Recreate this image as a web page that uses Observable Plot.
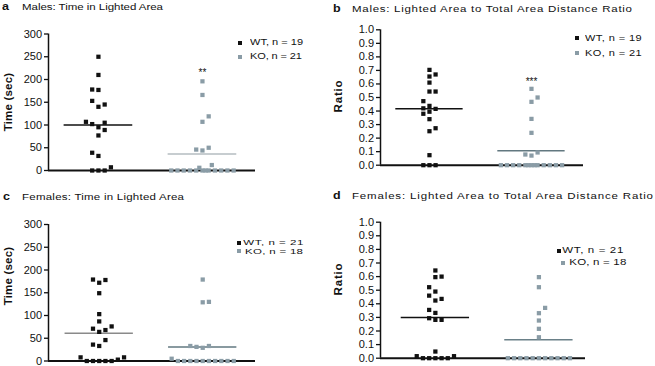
<!DOCTYPE html>
<html><head><meta charset="utf-8">
<script src="https://cdn.jsdelivr.net/npm/d3@7"></script>
<script src="https://cdn.jsdelivr.net/npm/@observablehq/plot@0.6"></script>
<style>
body{margin:0;background:#fff;font-family:"Liberation Sans",Arial,sans-serif;color:#111;}
#fig{position:relative;width:655px;height:366px;overflow:hidden;background:#fff;}
.panel{position:absolute;}
.tl{position:absolute;font-size:11.5px;white-space:nowrap;line-height:12px;transform:scaleY(0.82);transform-origin:left center;}
.let{position:absolute;font-size:12.5px;font-weight:bold;line-height:12px;transform:scaleY(0.85);transform-origin:left center;}
.yl{position:absolute;font-weight:bold;font-size:11.5px;transform:translate(-50%,-50%) rotate(-90deg);white-space:nowrap;line-height:12px;}
.lgt{position:absolute;white-space:nowrap;line-height:1;transform-origin:left center;}
.sq{position:absolute;width:4px;height:4px;}
</style>
</head>
<body>
<div id="fig"></div>
<script>
// ---- data ----
const groups = ["WT", "KO"];
const yTicksTime = [0, 50, 100, 150, 200, 250, 300];
const yTicksRatio = [0, 0.1, 0.2, 0.3, 0.4, 0.5, 0.6, 0.7, 0.8, 0.9, 1.0];

// a: Males, time in lighted area (sec)
const aWT = [250, 210, 178, 177, 153, 140, 145, 107, 102, 105, 95, 89, 77, 39, 32, 0, 0, 0, 7];
const aWTslot = [0, 0, -1, 0, -1, 0, 1, -2, -1, 1, 0, 1, 0, -1, 0, -1, 0, 1, 2];
const aKO = [196, 166, 119, 107, 46, 44, 50, 12, 6, 0, 0, 0, 0, 0, 0, 0, 0, 0, 0, 0, 0];
const aKOslot = [0, 0, 1, 0, -1, 0, 1, 1.5, -0.5, -5, -4, -3, -2, -1, 0, 0.5, 1, 2, 3, 4, 5];
const aMeans = [100, 36];

// b: Males, lighted/total distance ratio
const bWT = [0.704, 0.655, 0.67, 0.61, 0.544, 0.544, 0.473, 0.438, 0.42, 0.416, 0.38, 0.395, 0.34, 0.273, 0.251, 0.074, 0, 0, 0];
const bWTslot = [0, 0, 1, 0, 0, 1, -1, 0, -1, 1, -1, 0, 0, 1, 0, 0, -1, 0, 1];
const bKO = [0.564, 0.5, 0.468, 0.342, 0.239, 0.079, 0.071, 0.094, 0, 0, 0, 0, 0, 0, 0, 0, 0, 0, 0, 0, 0];
const bKOslot = [0, 1, 0, 0, 0, -1, 0, 1, -5, -4, -3, -2, -1, -0.5, 0, 0.5, 1, 2, 3, 4, 5];
const bMeans = [0.416, 0.106];

// c: Females, time in lighted area (sec)
const cWT = [179, 172, 178, 149, 103, 87, 71, 64, 68, 76, 36, 33, 46, 8, 0, 0, 0, 0, 0, 3, 8];
const cWTslot = [-1, 0, 1, 0, 0, 0, -1, 0, 1, 2, -1, 0, 1, -3, -2, -1, 0, 1, 2, 3, 4];
const cKO = [179, 129, 130, 33, 31, 29, 33, 5, 0, 0, 0, 0, 0, 0, 0, 0, 0, 0];
const cKOslot = [0, 0, 1, -2, -1, 0, 1, -5, -4, -3, -2, -1, 0, 1, 2, 3, 4, 5];
const cMeans = [61, 31];

// d: Females, lighted/total distance ratio
const dWT = [0.645, 0.596, 0.6, 0.522, 0.49, 0.46, 0.424, 0.436, 0.355, 0.333, 0.294, 0.282, 0.282, 0.049, 0.015, 0, 0, 0, 0, 0, 0.015];
const dWTslot = [0, 0, 1, -1, 0, -1, 0, 1, -1, 0, -1, 0, 1, 0, -3, -2, -1, 0, 1, 2, 3];
const dKO = [0.596, 0.522, 0.37, 0.331, 0.277, 0.216, 0.154, 0, 0, 0, 0, 0, 0, 0, 0, 0, 0, 0];
const dKOslot = [0, 0, 1, 0, 0, 0, 0, -5, -4, -3, -2, -1, 0, 1, 2, 3, 4, 5];
const dMeans = [0.299, 0.135];

const titles = ["Males: Time in Lighted Area", "Males: Lighted Area to Total Area Distance Ratio",
                "Females: Time in Lighted Area", "Females: Lighted Area to Total Area Distance Ratio"];
const letters = ["a", "b", "c", "d"];
const yLabels = ["Time (sec)", "Ratio", "Time (sec)", "Ratio"];
const legendA = ["WT, n = 19", "KO, n = 21"];
const legendB = ["WT,  n = 19", "KO,  n = 21"];
const legendC = ["WT, n = 21", "KO, n = 18"];
const legendD = ["WT, n = 21", "KO, n = 18"];
const sigA = [{g: 2, v: 214, t: "**"}];
const sigB = [{g: 2, v: 0.615, t: "***"}];

// ---- style ----
const WT_COLOR = "#111111";
const KO_COLOR = "#8a9ca6";
const SLOT = 0.06;
const FONT = "'Liberation Sans', Arial, sans-serif";
const fig = document.getElementById("fig");

function panel(o) {
  const pts = [
    ...o.wt.map((v, i) => ({g: 1, s: o.wtSlot[i], v, c: WT_COLOR})),
    ...o.ko.map((v, i) => ({g: 2, s: o.koSlot[i], v, c: KO_COLOR}))
  ];
  const m = o.means.map((v, i) => ({g: i + 1, v, c: o.meanColors[i]}));
  const svg = Plot.plot({
    width: o.width, height: o.height,
    marginLeft: o.ml, marginRight: o.mr, marginTop: o.mt, marginBottom: o.mb,
    x: {domain: o.xDomain, axis: null},
    y: {domain: o.yDomain, axis: null},
    color: {type: "identity"},
    style: {fontFamily: FONT, fontSize: "11px", color: "#111", background: "transparent", overflow: "visible"},
    marks: [
      Plot.axisY({ticks: o.ticks, tickSize: 4, tickPadding: 2.5, tickFormat: o.tickFormat, label: null, strokeWidth: 1.3}),
      Plot.ruleX([o.xDomain[0]], {stroke: "#111", strokeWidth: 1.5}),
      Plot.ruleY([o.yDomain[0]], {stroke: "#111", strokeWidth: 2}),
      Plot.ruleY(m, {y: "v", x1: d => d.g - 0.33, x2: d => d.g + 0.33, stroke: "c", strokeWidth: 1.5}),
      Plot.dot(pts, {x: d => d.g + d.s * SLOT, y: "v", symbol: "square", r: 2.4, fill: "c", stroke: null}),
      Plot.text(o.sig || [], {x: "g", y: "v", text: "t", fontSize: 10, fill: "#111"})
    ]
  });
  svg.classList.add("panel");
  svg.style.left = o.left + "px";
  svg.style.top = o.top + "px";
  fig.appendChild(svg);
}

function addDiv(cls, text, css) {
  const d = document.createElement("div");
  d.className = cls;
  d.textContent = text;
  Object.assign(d.style, css);
  fig.appendChild(d);
  return d;
}
// stretch text horizontally (letter spacing) to a measured target width
function fit(div, target) {
  div.style.letterSpacing = "0px";
  const w = div.getBoundingClientRect().width;
  const n = Math.max(1, div.textContent.length - 1);
  div.style.letterSpacing = ((target - w) / n) + "px";
}
function legend(items, colors, sqPos, txtPos, fontSize, sy, widths) {
  items.forEach((t, i) => {
    const s = document.createElement("div");
    s.className = "sq";
    s.style.background = colors[i];
    s.style.left = (sqPos[i][0] - 2) + "px";
    s.style.top = (sqPos[i][1] - 2) + "px";
    fig.appendChild(s);
    const d = addDiv("lgt", t, {left: txtPos[i][0] + "px", top: (txtPos[i][1] - fontSize / 2) + "px",
      fontSize: fontSize + "px", transform: "scaleY(" + sy + ")"});
    fit(d, widths[i]);
  });
}

const fmtT = d3.format("d");
const fmtR = d3.format(".1f");

panel({wt: aWT, wtSlot: aWTslot, ko: aKO, koSlot: aKOslot, means: aMeans, meanColors: ["#111", "#b4bcc0"],
  left: 0, top: 0, width: 327, height: 180, ml: 48, mr: 72, mt: 33.5, mb: 10,
  xDomain: [0.52, 2.51], yDomain: [0, 300], ticks: yTicksTime, tickFormat: fmtT, sig: sigA});
panel({wt: bWT, wtSlot: bWTslot, ko: bKO, koSlot: bKOslot, means: bMeans, meanColors: ["#111", "#627880"],
  left: 330, top: 0, width: 325, height: 180, ml: 50, mr: 72, mt: 29.3, mb: 15.3,
  xDomain: [0.52, 2.51], yDomain: [0, 1], ticks: yTicksRatio, tickFormat: fmtR, sig: sigB});
panel({wt: cWT, wtSlot: cWTslot, ko: cKO, koSlot: cKOslot, means: cMeans, meanColors: ["#8a8a8a", "#627880"],
  left: 0, top: 180, width: 327, height: 186, ml: 48, mr: 72, mt: 44, mb: 5.5,
  xDomain: [0.51, 2.51], yDomain: [0, 300], ticks: yTicksTime, tickFormat: fmtT});
panel({wt: dWT, wtSlot: dWTslot, ko: dKO, koSlot: dKOslot, means: dMeans, meanColors: ["#111", "#6a8088"],
  left: 330, top: 180, width: 325, height: 186, ml: 50, mr: 70, mt: 41.7, mb: 8.3,
  xDomain: [0.47, 2.45], yDomain: [0, 1], ticks: yTicksRatio, tickFormat: fmtR});

// titles
const letterPos = [[2, 1], [333, 3], [3, 191], [333, 190]];
const titlePos = [[22, 1], [352, 3], [22, 191], [352, 190]];
const titleWidths = [141, 280, 162, 301];
letters.forEach((l, i) => addDiv("let", l, {left: letterPos[i][0] + "px", top: letterPos[i][1] + "px"}));
titles.forEach((t, i) => {
  const d = addDiv("tl", t, {left: titlePos[i][0] + "px", top: titlePos[i][1] + "px"});
  fit(d, titleWidths[i]);
});

// y labels
const yLabelPos = [[8, 102], [338, 96], [8, 276], [338, 279]];
yLabels.forEach((t, i) => addDiv("yl", t, {left: yLabelPos[i][0] + "px", top: yLabelPos[i][1] + "px",
  letterSpacing: (i % 2 ? "0.8px" : "0.2px")}));

// legends
legend(legendA, [WT_COLOR, KO_COLOR], [[240, 42.7], [240, 56.7]], [[250, 42.7], [250, 56.7]], 11, 0.8, [53, 52]);
legend(legendB, [WT_COLOR, KO_COLOR], [[577, 38], [577, 53]], [[585, 38], [585, 53]], 11, 0.8, [57, 57]);
legend(legendC, [WT_COLOR, KO_COLOR], [[239.3, 242.8], [239.3, 251.3]], [[243.3, 242.8], [245, 251.3]], 11.5, 0.65, [60, 58]);
legend(legendD, [WT_COLOR, KO_COLOR], [[559.3, 251], [563.3, 263]], [[562.3, 251], [569.3, 263]], 11.5, 0.8, [61, 57]);
</script>
</body></html>
